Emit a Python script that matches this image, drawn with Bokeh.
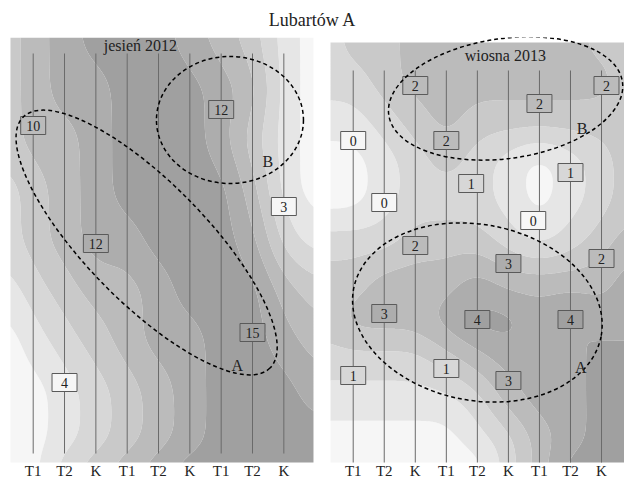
import numpy as np
from bokeh.plotting import figure
from bokeh.models import Range1d, ColumnDataSource
from bokeh.core.properties import value
from bokeh.embed import file_html
from bokeh.resources import INLINE

# ---------------- data ----------------
title_text = "Lubartów A"
season_labels = ["jesień 2012", "wiosna 2013"]
tick_cols = [1, 2, 3, 4, 5, 6, 7, 8, 9]
tick_labels = ["T1", "T2", "K", "T1", "T2", "K", "T1", "T2", "K"]

# autumn 2012 (left panel): transect column, position along transect, value
left_cols = [1, 7, 9, 3, 8, 2]
left_rows = [88, 72, 169, 206, 295, 345]
left_vals = [10, 12, 3, 12, 15, 4]

# spring 2013 (right panel)
right_cols = [3, 9.16, 7, 1, 4, 8, 4.8, 2, 6.8, 3, 6, 9, 2, 5, 8, 1, 4, 6]
right_rows = [48, 48, 66, 103, 103, 135, 146, 165, 183, 208, 226, 221, 276, 282, 282, 338, 331, 343]
right_vals = [2, 2, 2, 0, 2, 1, 1, 0, 0, 2, 3, 2, 3, 4, 4, 1, 1, 3]

# zone labels
left_zone_names = ["A", "B"]
left_zone_cols = [7.51, 8.49]
left_zone_rows = [328, 124]
right_zone_names = ["B", "A"]
right_zone_cols = [8.37, 8.33]
right_zone_rows = [91, 330]

# background shading classes (0 = lightest ... 6 = darkest) read on a coarse grid
left_bg_cols = [0.275, 1, 2, 3, 4, 5, 6, 7, 8, 9, 9.946]
left_bg_rows = [0, 53, 103, 153, 203, 253, 303, 353, 403, 425]
left_bg_levels = [
    [3, 4, 5, 6, 6, 6, 5, 4, 3, 1, 0],
    [3, 4, 5, 5, 6, 6, 6, 5, 4, 1, 0],
    [3, 4, 4, 5, 6, 6, 6, 5, 3, 1, 0],
    [2, 3, 4, 5, 6, 6, 6, 6, 4, 1, 0],
    [2, 3, 4, 5, 5, 6, 6, 6, 5, 2, 1],
    [1, 2, 3, 4, 4, 5, 6, 6, 6, 4, 3],
    [0, 1, 2, 3, 4, 5, 5, 6, 6, 5, 4],
    [0, 0, 1, 2, 3, 4, 5, 6, 6, 6, 5],
    [0, 0, 1, 2, 3, 4, 5, 6, 6, 6, 6],
    [0, 0, 2, 3, 4, 5, 6, 6, 6, 6, 6],
]
right_bg_cols = [0.269, 1, 2, 3, 4, 5, 6, 7, 8, 9, 9.74]
right_bg_rows = [5, 43, 83, 123, 163, 203, 243, 283, 323, 363, 403, 425]
right_bg_levels = [
    [2, 3, 3, 4, 4, 4, 4, 4, 4, 3, 3],
    [2, 2, 3, 4, 4, 4, 4, 4, 4, 4, 3],
    [1, 1, 2, 3, 4, 3, 3, 3, 3, 3, 3],
    [0, 0, 1, 2, 3, 2, 1, 0, 1, 2, 3],
    [0, 0, 1, 2, 2, 2, 1, 0, 1, 2, 3],
    [2, 2, 2, 3, 3, 3, 2, 1, 2, 3, 4],
    [3, 3, 4, 4, 4, 5, 4, 4, 4, 4, 5],
    [3, 4, 4, 4, 5, 6, 6, 5, 6, 5, 5],
    [2, 2, 2, 2, 3, 4, 5, 5, 5, 6, 6],
    [1, 1, 1, 1, 1, 2, 4, 5, 5, 6, 6],
    [0, 0, 0, 0, 0, 1, 2, 4, 5, 6, 6],
    [0, 0, 0, 0, 0, 0, 2, 4, 6, 6, 6],
]

# value -> shading class for the sample boxes
left_box_breaks = [5, 7, 8, 9, 11, 13.5]
right_box_breaks = [0.5, 0.8, 1.5, 1.8, 2.5, 3.5]
grays = ["#f6f6f6", "#e6e6e6", "#d7d7d7", "#c9c9c9", "#bbbbbb", "#adadad", "#a0a0a0"]

# ---------------- layout constants ----------------
LEFT_SP = 31.33   # px per transect column (left)
RIGHT_SP = 31.04  # px per transect column (right)
FONT = "'Liberation Serif', serif"
SERIF = value(FONT)
INK = "#222222"


def smooth_field(gx, gy, G, fx, fy, sigma):
    G = np.asarray(G, float)
    tmp = np.array([np.interp(fx, gx, row) for row in G])
    F = np.array([np.interp(fy, gy, tmp[:, j]) for j in range(len(fx))]).T
    r = int(3 * sigma)
    k = np.exp(-0.5 * (np.arange(-r, r + 1) / sigma) ** 2)
    k /= k.sum()
    Fp = np.pad(F, ((r, r), (0, 0)), mode="edge")
    F = np.apply_along_axis(lambda c: np.convolve(c, k, mode="valid"), 0, Fp)
    Fp = np.pad(F, ((0, 0), (r, r)), mode="edge")
    F = np.apply_along_axis(lambda c: np.convolve(c, k, mode="valid"), 1, Fp)
    return F


p = figure(width=624, height=485,
           x_range=Range1d(-0.0437, 19.873), y_range=Range1d(448, 0),
           output_backend="svg", toolbar_location=None,
           x_axis_location=None, y_axis_location=None,
           min_border=0, outline_line_color=None, title=title_text)
p.extra_x_ranges = {"right": Range1d(-10.363, 9.740)}
p.grid.visible = False
p.xgrid.grid_line_color = None
p.ygrid.grid_line_color = None
p.title.align = "center"
p.title.text_font = FONT
p.title.text_font_size = "18px"
p.title.text_font_style = "normal"
p.title.text_color = INK
p.title.standoff = 15
p.background_fill_color = "white"
p.border_fill_color = "white"


def panel(cols, rows, vals, box_breaks, bg_cols, bg_rows, bg_levels, sp, line_top, line_bottom, range_name):
    kw = {} if range_name is None else {"x_range_name": range_name}
    nx = int((bg_cols[-1] - bg_cols[0]) * sp / 1.5)
    ny = int((bg_rows[-1] - bg_rows[0]) / 1.5)
    fx = np.linspace(bg_cols[0], bg_cols[-1], nx)
    fy = np.linspace(bg_rows[0], bg_rows[-1], ny)
    Z = smooth_field(bg_cols, bg_rows, bg_levels, fx, fy, 8.0)
    levels = [-10, 0.5, 1.5, 2.5, 3.5, 4.5, 5.5, 10]
    cr = p.contour(fx, fy, Z, levels=levels, fill_color=grays, line_color=None)
    if range_name is not None:
        cr.x_range_name = range_name
        cr.fill_renderer.x_range_name = range_name
        cr.line_renderer.x_range_name = range_name
    # transect lines
    p.segment(x0=tick_cols, y0=[line_top] * 9, x1=tick_cols, y1=[line_bottom] * 9,
              line_color="#6a6a6a", line_width=1, **kw)
    idx = np.digitize(vals, box_breaks)
    src = ColumnDataSource(dict(x=cols, y=rows, t=[str(v) for v in vals],
                                c=[grays[i] for i in idx]))
    p.rect(x="x", y="y", width=25, height=18, width_units="screen", height_units="screen",
           fill_color="c", line_color="#5a5a5a", line_width=1, source=src, **kw)
    p.text(x="x", y="y", text="t", text_align="center", text_baseline="middle",
           text_font=SERIF, text_font_size="14px", text_color=INK, source=src, **kw)
    # category labels under the transects
    p.text(x=tick_cols, y=[433] * 9, text=tick_labels, text_align="center", text_baseline="middle",
           text_font=SERIF, text_font_size="15px", text_color=INK, **kw)


panel(left_cols, left_rows, left_vals, left_box_breaks, left_bg_cols, left_bg_rows, left_bg_levels,
      LEFT_SP, 16, 416, None)
panel(right_cols, right_rows, right_vals, right_box_breaks, right_bg_cols, right_bg_rows, right_bg_levels,
      RIGHT_SP, 33, 425, "right")

# zone ellipses (screen-sized)
p.ellipse(x=[4.62, 7.28], y=[205, 82.5], width=[352, 147], height=[120, 127],
          angle=[-45.5, 0], angle_units="deg", width_units="screen", height_units="screen",
          fill_color=None, line_color="black", line_width=1.5, line_dash="4 3")
p.ellipse(x=[5.91, 5.0], y=[61, 275], width=[236, 252], height=[120, 176],
          angle=[8, -11], angle_units="deg", width_units="screen", height_units="screen",
          fill_color=None, line_color="black", line_width=1.5, line_dash="4 3", x_range_name="right")

# zone letters and season labels
p.text(x=left_zone_cols, y=left_zone_rows, text=left_zone_names, text_align="center", text_baseline="middle",
       text_font=SERIF, text_font_size="16px", text_color=INK)
p.text(x=right_zone_cols, y=right_zone_rows, text=right_zone_names, text_align="center", text_baseline="middle",
       text_font=SERIF, text_font_size="16px", text_color=INK, x_range_name="right")
p.text(x=[4.42], y=[8], text=[season_labels[0]], text_align="center", text_baseline="middle",
       text_font=SERIF, text_font_size="16px", text_color=INK)
p.text(x=[5.9], y=[18], text=[season_labels[1]], text_align="center", text_baseline="middle",
       text_font=SERIF, text_font_size="16px", text_color=INK, x_range_name="right")

open("out.html", "w").write(file_html(p, INLINE))
